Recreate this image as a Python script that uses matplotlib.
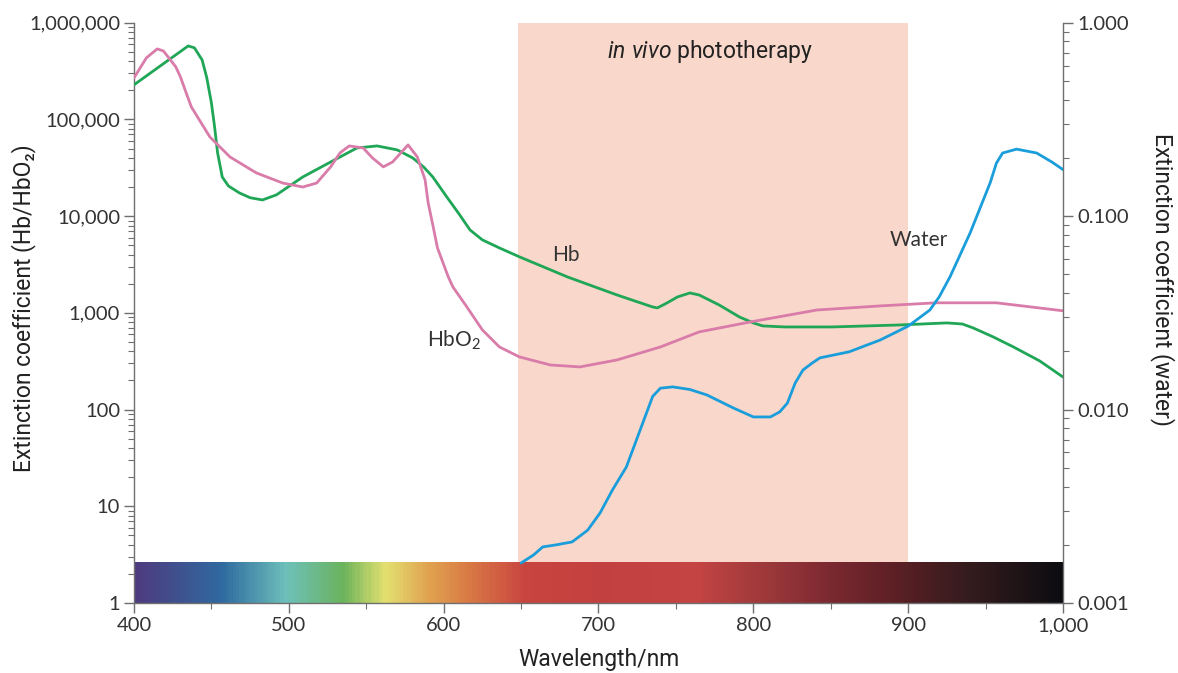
import numpy as np
import matplotlib
matplotlib.use("Agg")
import matplotlib.pyplot as plt
from matplotlib.colors import LinearSegmentedColormap
from matplotlib.ticker import FixedLocator, NullFormatter, LogLocator

plt.rcParams['mathtext.fontset'] = 'custom'
plt.rcParams['mathtext.rm'] = 'Lato'
plt.rcParams['mathtext.it'] = 'Roboto:italic'

# ---------------- data ----------------
hb_wl = [400, 435, 439, 444, 447, 450, 452, 454, 457, 461, 468, 475, 483, 492, 509, 527,
         544, 557, 570, 580, 587, 593, 602, 610, 617, 625, 636, 649, 680, 712, 735, 738,
         744, 751, 759, 765, 778, 791, 800, 806, 820, 851, 895, 925, 935, 942, 955, 968,
         985, 1000]
hb_val = [228000, 575000, 550000, 412000, 270000, 148000, 85000, 45000, 25400, 20500, 17400,
          15500, 14700, 16600, 25400, 36300, 50700, 53200, 48400, 40000, 32300, 25400, 15800,
          10500, 7200, 5680, 4690, 3790, 2350, 1530, 1150, 1125, 1260, 1460, 1606, 1530, 1205,
          907, 787, 733, 715, 715, 750, 787, 767, 698, 563, 444, 318, 217]

hbo2_wl = [400, 408, 415, 419, 422, 427, 430, 433, 437, 443, 449, 462, 479, 496, 509, 518,
           527, 533, 539, 548, 554, 561, 567, 577, 583, 588, 590, 593, 596, 603, 606, 615,
           625, 636, 649, 669, 688, 712, 740, 765, 798, 841, 882, 918, 957, 1000]
hbo2_val = [269000, 433000, 536000, 510000, 443000, 349000, 275000, 202000, 135000, 94200,
            65900, 40900, 28000, 22000, 20000, 22000, 32300, 45000, 53200, 50700, 40000, 32300,
            36300, 54500, 40900, 23700, 13700, 8100, 4690, 2350, 1850, 1150, 666, 444, 350,
            289, 276, 326, 444, 635, 805, 1070, 1180, 1270, 1270, 1050]

water_wl = [650, 658, 664, 673, 683, 693, 701, 709, 718, 731, 735, 740, 748, 759, 770, 787,
            800, 811, 817, 822, 827, 832, 838, 843, 862, 882, 900, 914, 920, 927, 940, 953,
            957, 961, 970, 983, 993, 1000]
water_val = [0.00161, 0.00177, 0.00195, 0.00200, 0.00207, 0.00238, 0.00292, 0.00384, 0.00505,
             0.0096, 0.0117, 0.0129, 0.0131, 0.0127, 0.0119, 0.0102, 0.00916, 0.00916,
             0.00972, 0.0108, 0.0137, 0.0160, 0.0174, 0.0185, 0.0199, 0.0229, 0.0270, 0.0327,
             0.0382, 0.0485, 0.0818, 0.149, 0.188, 0.212, 0.222, 0.212, 0.190, 0.174]

left_ticks = [1, 10, 100, 1000, 10000, 100000, 1000000]
left_labels = ["1", "10", "100", "1,000", "10,000", "100,000", "1,000,000"]
right_ticks = [0.001, 0.01, 0.1, 1.0]
right_labels = ["0.001", "0.010", "0.100", "1.000"]
x_ticks = [400, 500, 600, 700, 800, 900, 1000]
x_labels = ["400", "500", "600", "700", "800", "900", "1,000"]

spec_wl = [400, 456, 497, 534, 561, 589, 615, 652, 701, 763, 809, 851, 894, 938, 1000]
spec_col = ["#4e3a7e", "#2f6aa0", "#6dc0bb", "#6ab35c", "#e3e070", "#e0a350", "#d97a45",
            "#c8443f", "#c34040", "#c44443", "#9c383a", "#7a2830", "#5a1f24", "#351c1e",
            "#0c0c10"]

window = (648, 900)

# ---------------- figure ----------------
W, H = 1178, 673
fig = plt.figure(figsize=(W / 100, H / 100), dpi=100)
ax = fig.add_axes([134 / W, 1 - 603 / H, (1063 - 134) / W, (603 - 22.7) / H])
ax.set_xlim(400, 1000)
ax.set_yscale('log')
ax.set_ylim(1, 1e6)

grey = "#6f6f6f"
txt = "#333333"
tick_font = dict(family=['Lato', 'DejaVu Sans'], size=14.5, color=txt)

# shaded window
ax.axvspan(window[0], window[1], ymin=0, ymax=1, color="#f9d7ca", lw=0, zorder=0)

# spectrum bar
pos = [(w - 400) / 600 for w in spec_wl]
cmap = LinearSegmentedColormap.from_list("spec", list(zip(pos, spec_col)))
xs = np.linspace(400, 1000, 601)
ax.pcolormesh(xs, [1, 2.63], xs[:-1][None, :], cmap=cmap, vmin=400, vmax=1000,
              shading='flat', zorder=1, rasterized=True)

line_kw = dict(lw=2.0, zorder=3, solid_capstyle='round', solid_joinstyle='round')
ax.plot(hb_wl, hb_val, color="#1fa656", **line_kw)
ax.plot(hbo2_wl, hbo2_val, color="#d97ca9", **line_kw)

ax2 = ax.twinx()
ax2.set_yscale('log')
ax2.set_ylim(0.001, 1.0)
ax2.plot(water_wl, water_val, color="#1a9edb", **line_kw)

for a in (ax, ax2):
    a.spines['top'].set_visible(False)
    for s in ('left', 'right', 'bottom'):
        a.spines[s].set_color(grey)
        a.spines[s].set_linewidth(1.0)
ax.spines['right'].set_visible(False)
ax2.spines['left'].set_visible(False)
ax2.spines['bottom'].set_visible(False)

ax.yaxis.set_major_locator(FixedLocator(left_ticks))
ax.set_yticklabels(left_labels, **tick_font)
ax.yaxis.set_minor_locator(LogLocator(base=10, subs=np.arange(2, 10)))
ax.yaxis.set_minor_formatter(NullFormatter())
ax2.yaxis.set_major_locator(FixedLocator(right_ticks))
ax2.set_yticklabels(right_labels, **tick_font)
ax2.yaxis.set_minor_locator(LogLocator(base=10, subs=np.arange(2, 10)))
ax2.yaxis.set_minor_formatter(NullFormatter())
ax.xaxis.set_major_locator(FixedLocator(x_ticks))
ax.set_xticklabels(x_labels, **tick_font)
ax.xaxis.set_minor_locator(FixedLocator([450, 550, 650, 750, 850, 950]))

for a in (ax, ax2):
    a.tick_params(which='major', length=7, width=1, color=grey, pad=3)
    a.tick_params(which='minor', length=4, width=0.8, color=grey)

lab = dict(family=['Roboto', 'DejaVu Sans'], size=16.5, color="#222222")
ax.set_xlabel("Wavelength/nm", **lab)
ax.xaxis.label.set_va('center')
ax.xaxis.set_label_coords(0.5, -0.098)
ax.set_ylabel("Extinction coefficient (Hb/HbO₂)", **lab)
ax.yaxis.label.set_va('center')
ax.yaxis.set_label_coords(-0.119, 0.508)
ax2.set_ylabel("Extinction coefficient (water)", rotation=270, **lab)
ax2.yaxis.label.set_va('center')
ax2.yaxis.set_label_coords(1.1076, 0.558)

lab_font = dict(family=['Lato', 'DejaVu Sans'], size=15, color=txt)
ax.text(679, 3970, "Hb", ha='center', va='center', **lab_font)
ax.text(607, 525, r"HbO$_\mathrm{2}$", ha='center', va='center', **lab_font)
ax.text(907, 5680, "Water", ha='center', va='center', **lab_font)
ax.text(772, 5.0e5, r"$in\ vivo$ phototherapy", ha='center', va='center',
        family=['Roboto', 'DejaVu Sans'], size=16.5, color="#222222")

fig.savefig("out.png", dpi=100)
